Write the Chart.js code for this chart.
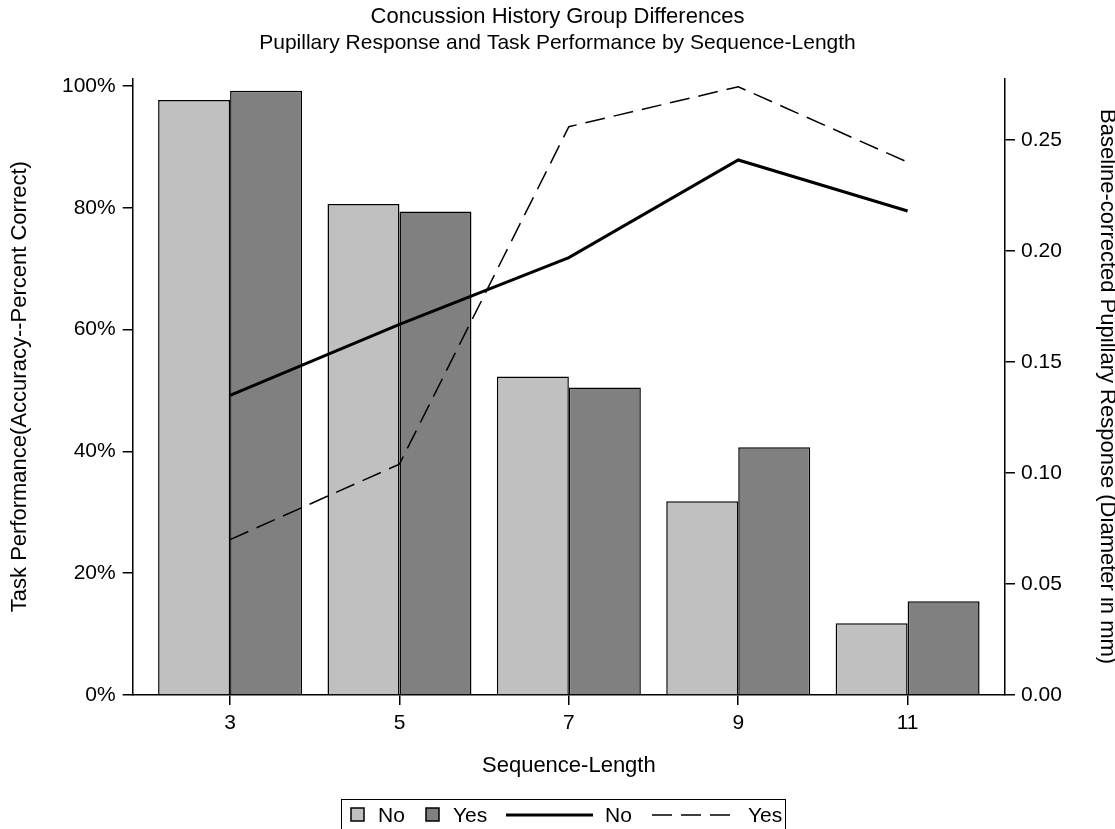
<!DOCTYPE html>
<html><head><meta charset="utf-8">
<script src="https://cdn.jsdelivr.net/npm/chart.js@4.4.1/dist/chart.umd.min.js"></script>
<style>html,body{margin:0;padding:0;background:#fff;overflow:hidden}</style>
</head><body>
<canvas id="c" width="1115" height="829"></canvas>
<script>
const sequenceLengths = [3, 5, 7, 9, 11];
const accuracyNo  = [97.7, 80.6, 52.3, 31.8, 11.8];
const accuracyYes = [99.2, 79.4, 50.5, 40.7, 15.4];
const pupilNo  = [0.135, 0.167, 0.197, 0.241, 0.218];
const pupilYes = [0.070, 0.104, 0.256, 0.274, 0.240];
const leftTicks  = [0, 20, 40, 60, 80, 100];
const rightTicks = [0, 0.05, 0.10, 0.15, 0.20, 0.25];

const FONT = "'Liberation Sans', Arial, Helvetica, sans-serif";
const TICK_SIZE = 21;
const LABEL_SIZE = 22;
Chart.defaults.color = '#000';
Chart.defaults.font.family = FONT;

const toXY = (vals) => sequenceLengths.map((x, i) => ({x: x, y: vals[i]}));

const legendPlugin = {
  id: 'boxLegend',
  afterDraw(chart) {
    const c = chart.ctx;
    c.save();
    c.strokeStyle = '#000';
    c.lineWidth = 1;
    c.strokeRect(341.5, 799.5, 444, 45);
    const midY = 815;
    c.lineWidth = 1.5;
    c.fillStyle = '#c0c0c0';
    c.fillRect(351, 808, 13, 13); c.strokeRect(351, 808, 13, 13);
    c.fillStyle = '#808080';
    c.fillRect(426, 808, 13, 13); c.strokeRect(426, 808, 13, 13);
    c.beginPath(); c.lineWidth = 3; c.moveTo(506, midY); c.lineTo(593, midY); c.stroke();
    c.beginPath(); c.lineWidth = 1.5; c.setLineDash([20, 9]); c.moveTo(652, midY); c.lineTo(730, midY); c.stroke();
    c.setLineDash([]);
    c.fillStyle = '#000';
    c.font = '21px ' + FONT;
    c.textBaseline = 'middle';
    c.fillText('No', 378, midY + 1);
    c.fillText('Yes', 453, midY + 1);
    c.fillText('No', 605, midY + 1);
    c.fillText('Yes', 748, midY + 1);
    c.restore();
  }
};

const axisGrid = {display: true, drawOnChartArea: false, drawTicks: true, tickLength: 10, tickColor: '#000', tickWidth: 1.5, lineWidth: 1.5, color: '#000', offset: false};
const axisBorder = {display: true, color: '#000', width: 1.5};

new Chart(document.getElementById('c'), {
  data: {
    datasets: [
      {type: 'line', label: 'No', data: toXY(pupilNo), yAxisID: 'y2', borderColor: '#000', borderWidth: 3, pointRadius: 0, fill: false, tension: 0, order: 0},
      {type: 'line', label: 'Yes', data: toXY(pupilYes), yAxisID: 'y2', borderColor: '#000', borderWidth: 1.5, borderDash: [20, 9], pointRadius: 0, fill: false, tension: 0, order: 0},
      {type: 'bar', label: 'No', data: toXY(accuracyNo), yAxisID: 'y', backgroundColor: '#c0c0c0', borderColor: '#000', borderWidth: 1.5, categoryPercentage: 0.85, barPercentage: 1.0, order: 1},
      {type: 'bar', label: 'Yes', data: toXY(accuracyYes), yAxisID: 'y', backgroundColor: '#808080', borderColor: '#000', borderWidth: 1.5, categoryPercentage: 0.85, barPercentage: 1.0, order: 1}
    ]
  },
  options: {
    responsive: false,
    animation: false,
    devicePixelRatio: 1,
    layout: {padding: {left: 0, right: 0, top: 0, bottom: 50}},
    plugins: {
      legend: {display: false},
      tooltip: {enabled: false},
      title: {display: true, text: 'Concussion History Group Differences', font: {size: 22, weight: 'normal'}, padding: {top: 4, bottom: 0}, color: '#000'},
      subtitle: {display: true, text: 'Pupillary Response and Task Performance by Sequence-Length', font: {size: 21, weight: 'normal'}, padding: {top: 0, bottom: 22.7}, color: '#000'}
    },
    scales: {
      x: {
        type: 'linear', position: 'bottom', min: 1.85, max: 12.15, offset: false,
        afterBuildTicks: (s) => { s.ticks = sequenceLengths.map(v => ({value: v})); },
        afterFit: (s) => { s.height = 84; },
        ticks: {font: {size: TICK_SIZE}, padding: 6, callback: (v) => String(v), maxRotation: 0, autoSkip: false},
        grid: axisGrid, border: axisBorder,
        title: {display: true, text: 'Sequence-Length', font: {size: LABEL_SIZE}, padding: {top: 0, bottom: 0}}
      },
      y: {
        type: 'linear', position: 'left', min: 0, max: 101.26,
        afterBuildTicks: (s) => { s.ticks = leftTicks.map(v => ({value: v})); },
        afterFit: (s) => { s.width = 132.7; },
        ticks: {font: {size: TICK_SIZE}, padding: 7, callback: (v) => v + '%'},
        grid: axisGrid, border: axisBorder,
        title: {display: true, text: 'Task Performance(Accuracy--Percent Correct)', font: {size: LABEL_SIZE}, padding: {top: 7, bottom: 0}}
      },
      y2: {
        type: 'linear', position: 'right', min: 0, max: 0.2778,
        afterBuildTicks: (s) => { s.ticks = rightTicks.map(v => ({value: v})); },
        afterFit: (s) => { s.width = 110; },
        ticks: {font: {size: TICK_SIZE}, padding: 6, callback: (v) => v.toFixed(2)},
        grid: axisGrid, border: axisBorder,
        title: {display: true, text: 'Baseline-corrected Pupillary Response (Diameter in mm)', font: {size: LABEL_SIZE}, padding: {top: -5, bottom: 0}}
      }
    }
  },
  plugins: [legendPlugin]
});
</script>
</body></html>
